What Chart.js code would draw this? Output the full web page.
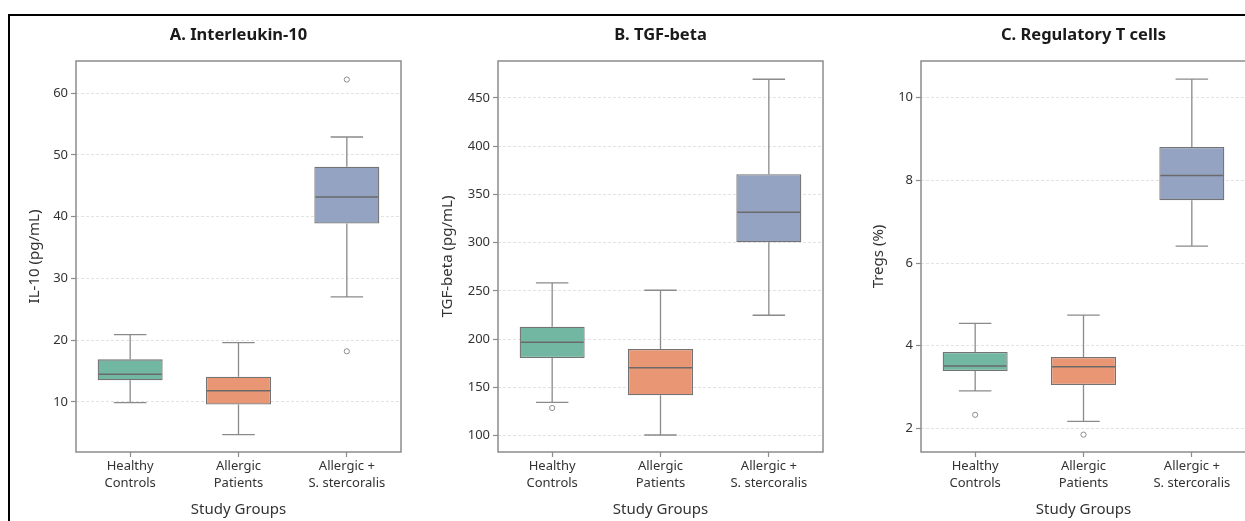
<!DOCTYPE html>
<html>
<head>
<meta charset="utf-8">
<title>Immunoregulatory markers by study group</title>
<script src="https://cdn.jsdelivr.net/npm/chart.js@4.4.1/dist/chart.umd.min.js"></script>
<style>
    body { margin: 0; background: #fff; width: 1245px; height: 521px; position: relative; overflow: hidden; }
    .frame { position: absolute; left: 8px; top: 14px; width: 1300px; height: 600px; border-top: 2px solid #000; border-left: 2px solid #000; }
    canvas { position: absolute; top: 16px; }
</style>
</head>
<body>
<div class="frame"></div>
<canvas id="il10Chart" width="410" height="505" style="left:10px"></canvas>
<canvas id="tgfChart" width="415" height="505" style="left:425px"></canvas>
<canvas id="tregChart" width="420" height="505" style="left:845px"></canvas>
<script>
// Study groups (x categories, two-line labels)
const groups = [['Healthy', 'Controls'], ['Allergic', 'Patients'], ['Allergic +', 'S. stercoralis']];
const groupColors = ['#72b7a1', '#e99675', '#95a3c3'];

// A. Interleukin-10 (pg/mL)
const il10Min = [9.9, 4.7, 27.0];
const il10Q1 = [13.5, 9.6, 38.9];
const il10Median = [14.5, 11.8, 43.2];
const il10Q3 = [16.9, 14.1, 48.1];
const il10Max = [20.9, 19.6, 52.9];
const il10Outliers = [[], [], [62.2, 18.2]];
const il10Ticks = [10, 20, 30, 40, 50, 60];

// B. TGF-beta (pg/mL)
const tgfMin = [134.6, 100.7, 224.8];
const tgfQ1 = [180.5, 141.9, 300.5];
const tgfMedian = [196.8, 170.5, 331.5];
const tgfQ3 = [213.0, 189.9, 371.0];
const tgfMax = [258.3, 250.7, 469.4];
const tgfOutliers = [[128.7], [], []];
const tgfTicks = [100, 150, 200, 250, 300, 350, 400, 450];

// C. Regulatory T cells (%)
const tregMin = [2.91, 2.17, 6.41];
const tregQ1 = [3.39, 3.05, 7.52];
const tregMedian = [3.51, 3.49, 8.12];
const tregQ3 = [3.85, 3.73, 8.81];
const tregMax = [4.54, 4.74, 10.45];
const tregOutliers = [[2.33], [1.85], []];
const tregTicks = [2, 4, 6, 8, 10];

const FONT = "'Noto Sans', 'Open Sans', sans-serif";
const AXIS_GRAY = '#8c8c8c';

// whiskers, caps, medians, plot frame and panel title, all placed through the chart scales
const boxWhiskers = {
    id: 'boxWhiskers',
    beforeDatasetsDraw(chart, args, opts) {
        const ctx = chart.ctx;
        const a = chart.chartArea;
        const y = chart.scales.y;
        ctx.save();
        ctx.strokeStyle = AXIS_GRAY;
        ctx.lineWidth = 1.5;
        ctx.strokeRect(a.left, a.top, a.right - a.left, a.bottom - a.top);

        ctx.strokeStyle = '#8a8a8a';
        ctx.lineWidth = 1.3;
        chart.getDatasetMeta(0).data.forEach(function(bar, i) {
            const cap = bar.width / 4;
            const yMin = y.getPixelForValue(opts.low[i]);
            const yMax = y.getPixelForValue(opts.high[i]);
            const yQ1 = y.getPixelForValue(opts.q1[i]);
            const yQ3 = y.getPixelForValue(opts.q3[i]);
            ctx.beginPath();
            ctx.moveTo(bar.x, yQ3); ctx.lineTo(bar.x, yMax);
            ctx.moveTo(bar.x, yQ1); ctx.lineTo(bar.x, yMin);
            ctx.moveTo(bar.x - cap, yMax); ctx.lineTo(bar.x + cap, yMax);
            ctx.moveTo(bar.x - cap, yMin); ctx.lineTo(bar.x + cap, yMin);
            ctx.stroke();
        });
        ctx.restore();
    },
    afterDatasetsDraw(chart, args, opts) {
        const ctx = chart.ctx;
        const a = chart.chartArea;
        const y = chart.scales.y;
        ctx.save();
        ctx.strokeStyle = '#6a6a6a';
        ctx.lineWidth = 1.5;
        chart.getDatasetMeta(0).data.forEach(function(bar, i) {
            const yMed = y.getPixelForValue(opts.median[i]);
            const half = bar.width / 2;
            ctx.beginPath();
            ctx.moveTo(bar.x - half + 1, yMed);
            ctx.lineTo(bar.x + half - 1, yMed);
            ctx.stroke();
        });

        // panel title centred over the plot box
        ctx.fillStyle = '#1a1a1a';
        ctx.font = 'bold 16.5px ' + FONT;
        ctx.textAlign = 'center';
        ctx.textBaseline = 'middle';
        ctx.fillText(opts.title, (a.left + a.right) / 2, 19.5);
        ctx.restore();
    }
};

function makeBoxChart(id, s) {
    const ctx = document.getElementById(id);
    if (!ctx) return;

    const datasets = [{
        type: 'bar',
        data: s.q1.map(function(v, i) { return [v, s.q3[i]]; }),
        backgroundColor: groupColors,
        borderColor: '#737373',
        borderWidth: 1.3,
        borderSkipped: false,
        barPercentage: 0.6,
        categoryPercentage: 1.0
    }];

    // one point dataset per outlier rank
    const maxOut = Math.max.apply(null, s.outliers.map(function(o) { return o.length; }));
    for (let k = 0; k < maxOut; k++) {
        datasets.push({
            type: 'line',
            data: s.outliers.map(function(o) { return o[k] !== undefined ? o[k] : null; }),
            showLine: false,
            pointRadius: 2.6,
            pointBorderWidth: 1,
            pointBorderColor: '#8c8c8c',
            pointBackgroundColor: '#ffffff'
        });
    }

    new Chart(ctx, {
        data: { labels: groups, datasets: datasets },
        plugins: [boxWhiskers],
        options: {
            responsive: false,
            animation: false,
            layout: { padding: { left: 0, right: s.padRight, top: 45, bottom: 0 } },
            plugins: {
                legend: { display: false },
                tooltip: { enabled: false },
                title: { display: false },
                boxWhiskers: { title: s.title, low: s.min, q1: s.q1, median: s.median, q3: s.q3, high: s.max }
            },
            scales: {
                x: {
                    type: 'category',
                    offset: true,
                    grid: { offset: false, drawOnChartArea: false, tickLength: 5, tickColor: AXIS_GRAY, tickWidth: 1.2 },
                    border: { display: false },
                    ticks: {
                        color: '#333',
                        font: { family: FONT, size: 13, lineHeight: 1.3 },
                        padding: 1,
                        maxRotation: 0,
                        autoSkip: false
                    },
                    title: {
                        display: true,
                        text: 'Study Groups',
                        color: '#333',
                        font: { family: FONT, size: 15 },
                        padding: { top: 0, bottom: 2 }
                    },
                    afterFit: function(scale) { scale.height = 69; }
                },
                y: {
                    min: s.yMin,
                    max: s.yMax,
                    afterBuildTicks: function(scale) {
                        scale.ticks = s.ticks.map(function(v) { return { value: v }; });
                    },
                    grid: {
                        color: '#dcdcdc',
                        lineWidth: 0.8,
                        tickLength: 5,
                        tickColor: AXIS_GRAY,
                        tickWidth: 1.2,
                        tickBorderDash: []
                    },
                    border: { display: false, dash: [3, 2] },
                    ticks: {
                        color: '#333',
                        font: { family: FONT, size: 13 },
                        padding: 3
                    },
                    title: {
                        display: true,
                        text: s.yTitle,
                        color: '#333',
                        font: { family: FONT, size: 15 },
                        padding: { top: s.titlePad, bottom: 0 }
                    },
                    afterFit: function(scale) { scale.width = s.axisWidth; }
                }
            }
        }
    });
}

document.addEventListener('DOMContentLoaded', function() {
    makeBoxChart('il10Chart', {
        title: 'A. Interleukin-10', yTitle: 'IL-10 (pg/mL)',
        min: il10Min, q1: il10Q1, median: il10Median, q3: il10Q3, max: il10Max,
        outliers: il10Outliers, ticks: il10Ticks,
        yMin: 1.9, yMax: 65.2, axisWidth: 66, padRight: 19, titlePad: 16
    });
    makeBoxChart('tgfChart', {
        title: 'B. TGF-beta', yTitle: 'TGF-beta (pg/mL)',
        min: tgfMin, q1: tgfQ1, median: tgfMedian, q3: tgfQ3, max: tgfMax,
        outliers: tgfOutliers, ticks: tgfTicks,
        yMin: 83.1, yMax: 488.3, axisWidth: 73, padRight: 17, titlePad: 13.5
    });
    makeBoxChart('tregChart', {
        title: 'C. Regulatory T cells', yTitle: 'Tregs (%)',
        min: tregMin, q1: tregQ1, median: tregMedian, q3: tregQ3, max: tregMax,
        outliers: tregOutliers, ticks: tregTicks,
        yMin: 1.43, yMax: 10.89, axisWidth: 76, padRight: 19, titlePad: 24.3
    });
});
</script>
</body>
</html>
